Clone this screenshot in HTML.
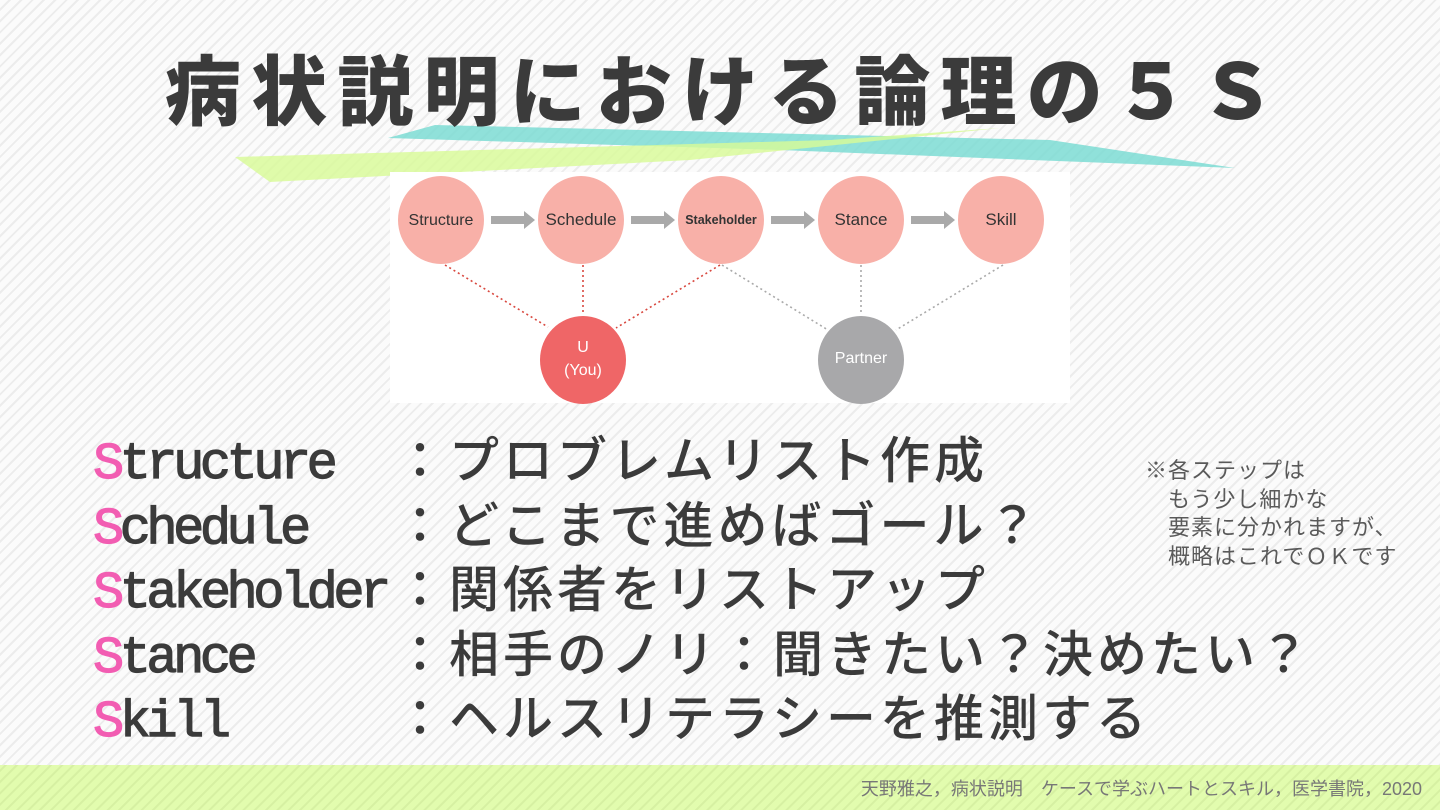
<!DOCTYPE html>
<html><head><meta charset="utf-8"><style>
html,body{margin:0;padding:0;width:1440px;height:810px;overflow:hidden;}
body{background:#fbfbfb repeating-linear-gradient(135deg,#fbfbfb 0 6px,#ececec 6px 8px);}
svg{position:absolute;left:0;top:0}
</style></head><body>
<svg width="1440" height="810" viewBox="0 0 1440 810" xmlns="http://www.w3.org/2000/svg">
<defs>
<pattern id="st" width="8" height="8" patternUnits="userSpaceOnUse" patternTransform="rotate(45)">
<rect width="8" height="8" fill="#e2fcae"/><rect width="2" height="8" fill="#d6f0a2"/>
</pattern>
</defs>
<polygon points="388,138 435,125 1050,140 1235,168 780,150" fill="#7ddcd3" opacity="0.85"/>
<polygon points="235,157 830,140 1000,128 690,160 270,182" fill="#d8fb96" opacity="0.8"/>
<text x="165" y="119" textLength="1110" lengthAdjust="spacing" font-family="'Noto Sans CJK JP',sans-serif" font-weight="900" font-size="76" fill="#3b3b3b">病状説明における論理の５Ｓ</text>
<rect x="390" y="172" width="680" height="231" fill="#ffffff"/>
<g stroke-width="1.6" fill="none" stroke-dasharray="2 3">
<line x1="445" y1="265" x2="548" y2="327" stroke="#d9483f"/>
<line x1="583" y1="265" x2="583" y2="315" stroke="#d9483f"/>
<line x1="720" y1="265" x2="616" y2="328" stroke="#d9483f"/>
<line x1="722" y1="265" x2="828" y2="330" stroke="#aaa"/>
<line x1="861" y1="265" x2="861" y2="315" stroke="#aaa"/>
<line x1="1003" y1="265" x2="896" y2="330" stroke="#aaa"/>
</g>
<g fill="#a9a9a9">
<polygon points="491,216 524,216 524,211 535,220 524,229 524,224 491,224"/>
<polygon points="631,216 664,216 664,211 675,220 664,229 664,224 631,224"/>
<polygon points="771,216 804,216 804,211 815,220 804,229 804,224 771,224"/>
<polygon points="911,216 944,216 944,211 955,220 944,229 944,224 911,224"/>
</g>
<g fill="#f8b0a8">
<ellipse cx="441" cy="220" rx="43" ry="44"/>
<ellipse cx="581" cy="220" rx="43" ry="44"/>
<ellipse cx="721" cy="220" rx="43" ry="44"/>
<ellipse cx="861" cy="220" rx="43" ry="44"/>
<ellipse cx="1001" cy="220" rx="43" ry="44"/>
</g>
<ellipse cx="583" cy="360" rx="43" ry="44" fill="#ef6667"/>
<ellipse cx="861" cy="360" rx="43" ry="44" fill="#a8a8aa"/>
<g font-family="'Liberation Sans',sans-serif" text-anchor="middle" fill="#333">
<text x="441" y="225" font-size="16">Structure</text>
<text x="581" y="225" font-size="17">Schedule</text>
<text x="721" y="224" font-size="12.5" font-weight="bold">Stakeholder</text>
<text x="861" y="225" font-size="17">Stance</text>
<text x="1001" y="225" font-size="17">Skill</text>
<text x="583" y="352" font-size="16" fill="#fff">U</text>
<text x="583" y="375" font-size="16" fill="#fff">(You)</text>
<text x="861" y="363" font-size="16" fill="#fff">Partner</text>
</g>
<g font-family="'Liberation Mono',monospace" font-size="52" letter-spacing="-4.5" fill="#3b3b3b" stroke="#3b3b3b" stroke-width="1.2">
<text x="93" y="478"><tspan fill="#f25db2" stroke="#f25db2">S</tspan>tructure</text>
<text x="93" y="543"><tspan fill="#f25db2" stroke="#f25db2">S</tspan>chedule</text>
<text x="93" y="607"><tspan fill="#f25db2" stroke="#f25db2">S</tspan>takeholder</text>
<text x="93" y="672"><tspan fill="#f25db2" stroke="#f25db2">S</tspan>tance</text>
<text x="93" y="736"><tspan fill="#f25db2" stroke="#f25db2">S</tspan>kill</text>
</g>
<g font-family="'Noto Sans CJK JP',sans-serif" font-size="50" font-weight="500" letter-spacing="4" fill="#3b3b3b">
<text x="395" y="478">：プロブレムリスト作成</text>
<text x="395" y="543">：どこまで進めばゴール？</text>
<text x="395" y="607">：関係者をリストアップ</text>
<text x="395" y="672">：相手のノリ：聞きたい？決めたい？</text>
<text x="395" y="736">：ヘルスリテラシーを推測する</text>
</g>
<g font-family="'Noto Sans CJK JP',sans-serif" font-size="22" letter-spacing="1" fill="#5a5a5a">
<text x="1145" y="478">※各ステップは</text>
<text x="1168" y="507">もう少し細かな</text>
<text x="1168" y="535">要素に分かれますが、</text>
<text x="1168" y="564">概略はこれでＯＫです</text>
</g>
<rect x="0" y="765" width="1440" height="45" fill="url(#st)"/>
<text x="1422" y="795" text-anchor="end" font-family="'Liberation Sans','Noto Sans CJK JP',sans-serif" font-size="18" fill="#777">天野雅之，病状説明　ケースで学ぶハートとスキル，医学書院，2020</text>
</svg>
</body></html>
